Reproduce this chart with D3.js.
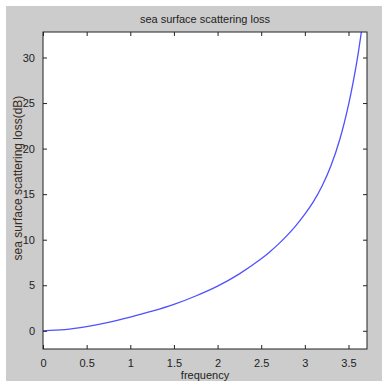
<!DOCTYPE html>
<html>
<head>
<meta charset="utf-8">
<script src="https://cdn.jsdelivr.net/npm/d3@7"></script>
<style>
  body { margin: 0; background: #fff; }
  text { font-family: "Liberation Sans", Arial, sans-serif; }
</style>
</head>
<body>
<div id="chart"></div>
<script>
// values
var freq = [0, 0.25, 0.5, 0.75, 1.0, 1.25, 1.5, 1.75, 2.0, 2.25, 2.5, 2.6, 2.7, 2.8, 2.9, 3.0, 3.1, 3.2, 3.3, 3.4, 3.5, 3.6, 3.7];
var loss = [0, 0.12, 0.45, 0.92, 1.5, 2.15, 2.9, 3.82, 4.9, 6.25, 7.9, 8.68, 9.54, 10.5, 11.58, 12.8, 14.2, 15.95, 18.15, 21.0, 24.8, 29.8, 36.5];
var xTicks = [0, 0.5, 1, 1.5, 2, 2.5, 3, 3.5];
var yTicks = [0, 5, 10, 15, 20, 25, 30];

var W = 382, H = 381;
var box = { left: 43, right: 367, top: 32, bottom: 349 };

var svg = d3.select('#chart')
  .append('svg')
    .attr('width', W)
    .attr('height', H);

// figure background
svg.append('rect')
  .attr('x', 6).attr('y', 6)
  .attr('width', W - 6).attr('height', H - 6)
  .attr('fill', '#cccccc');

var x = d3.scaleLinear().domain([0, 3.712]).range([box.left, box.right]);
var y = d3.scaleLinear().domain([-2, 32.8]).range([box.bottom, box.top]);

svg.append('rect')
  .attr('x', box.left).attr('y', box.top)
  .attr('width', box.right - box.left).attr('height', box.bottom - box.top)
  .attr('fill', '#fff');

svg.append('clipPath').attr('id', 'clip')
  .append('rect')
    .attr('x', box.left).attr('y', box.top)
    .attr('width', box.right - box.left).attr('height', box.bottom - box.top);

var pts = freq.map(function (f, i) { return [f, loss[i]]; });
var line = d3.line()
  .x(function (d) { return x(d[0]); })
  .y(function (d) { return y(d[1]); })
  .curve(d3.curveCatmullRom.alpha(0.5));

svg.append('path')
  .datum(pts)
  .attr('clip-path', 'url(#clip)')
  .attr('d', line)
  .attr('fill', 'none')
  .attr('stroke', '#5050ff')
  .attr('stroke-width', 1.3);

// axes, ticks inside, mirrored on opposite sides
function styleAxis(g) {
  g.select('.domain').remove();
  g.selectAll('line').attr('stroke', '#222');
  g.selectAll('text')
    .attr('fill', '#222')
    .style('font-size', '11px');
}

svg.append('g')
  .attr('transform', 'translate(0,' + box.bottom + ')')
  .call(d3.axisBottom(x).tickValues(xTicks).tickSizeInner(-4).tickSizeOuter(0).tickPadding(10)
    .tickFormat(d3.format('')))
  .call(styleAxis);
svg.append('g')
  .attr('transform', 'translate(0,' + box.top + ')')
  .call(d3.axisTop(x).tickValues(xTicks).tickSizeInner(-4).tickSizeOuter(0).tickFormat(''))
  .call(styleAxis);
svg.append('g')
  .attr('transform', 'translate(' + box.left + ',0)')
  .call(d3.axisLeft(y).tickValues(yTicks).tickSizeInner(-4).tickSizeOuter(0).tickPadding(8))
  .call(styleAxis);
svg.append('g')
  .attr('transform', 'translate(' + box.right + ',0)')
  .call(d3.axisRight(y).tickValues(yTicks).tickSizeInner(-4).tickSizeOuter(0).tickFormat(''))
  .call(styleAxis);

svg.append('rect')
  .attr('x', box.left).attr('y', box.top)
  .attr('width', box.right - box.left).attr('height', box.bottom - box.top)
  .attr('fill', 'none')
  .attr('stroke', '#222')
  .attr('stroke-width', 1);

svg.append('text')
  .attr('x', (box.left + box.right) / 2)
  .attr('y', 23)
  .attr('text-anchor', 'middle')
  .attr('fill', '#222')
  .style('font-size', '11px')
  .text('sea surface scattering loss');

svg.append('text')
  .attr('x', (box.left + box.right) / 2)
  .attr('y', 379)
  .attr('text-anchor', 'middle')
  .attr('fill', '#222')
  .style('font-size', '11px')
  .text('frequency');

svg.append('text')
  .attr('transform', 'translate(22,178) rotate(-90)')
  .attr('text-anchor', 'middle')
  .attr('fill', '#3a2a1a')
  .style('font-size', '12px')
  .text('sea surface scattering loss(dB)');
</script>
</body>
</html>
